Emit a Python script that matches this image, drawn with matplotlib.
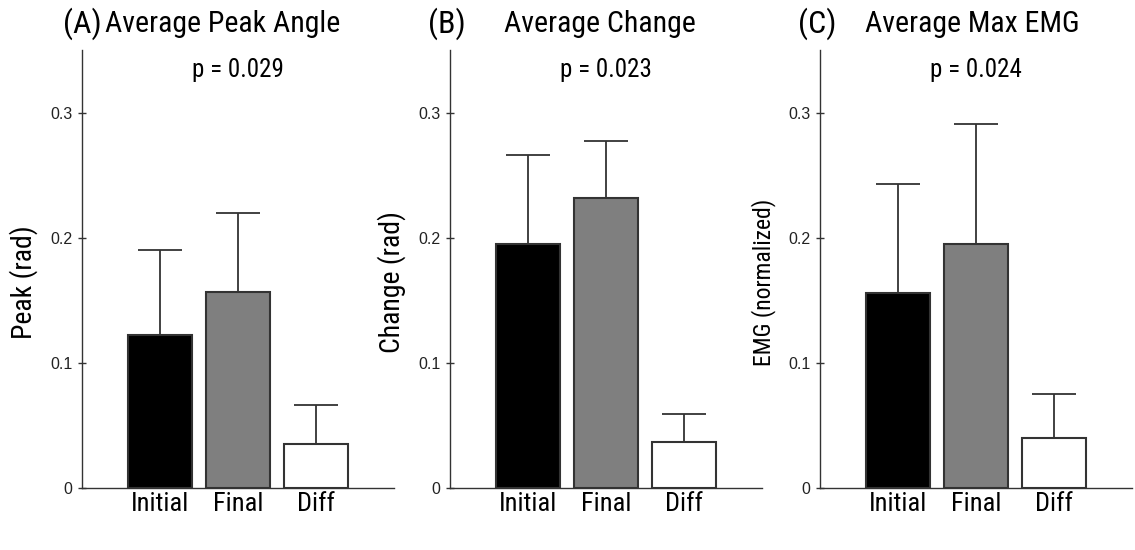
import matplotlib.pyplot as plt

conds = ["Initial", "Final", "Diff"]
bar_colors = ["black", "#7f7f7f", "white"]

peak_mean = [0.122, 0.157, 0.035]
peak_err = [0.068, 0.063, 0.031]
change_mean = [0.195, 0.232, 0.037]
change_err = [0.071, 0.045, 0.022]
emg_mean = [0.156, 0.195, 0.040]
emg_err = [0.087, 0.096, 0.035]

letters = ["(A)", "(B)", "(C)"]
titles = ["Average Peak Angle", "Average Change", "Average Max EMG"]
pvals = ["p = 0.029", "p = 0.023", "p = 0.024"]
ylabels = ["Peak (rad)", "Change (rad)", "EMG (normalized)"]
yticks = [0, 0.1, 0.2, 0.3]
ytick_labels = ["0", "0.1", "0.2", "0.3"]

narrow = ["Roboto Condensed", "DejaVu Sans"]
plain = ["Liberation Sans", "DejaVu Sans"]

W, H = 1135, 550
fig = plt.figure(figsize=(W / 100, H / 100), dpi=100)

lefts = [82, 450, 820]
title_cx = [223, 600, 972]
letter_x = [63, 428, 798]
means = [peak_mean, change_mean, emg_mean]
errs = [peak_err, change_err, emg_err]
ylab_size = [20, 20, 17]
edge = "#333333"

for i in range(3):
    ax = fig.add_axes([lefts[i] / W, 62 / H, 312 / W, 438 / H])
    x = [1, 2, 3]
    ax.errorbar(x, means[i], yerr=[[0, 0, 0], errs[i]], fmt="none",
                ecolor=edge, elinewidth=1.3, capsize=15.8, capthick=1.3, zorder=1)
    ax.bar(x, means[i], width=0.82, color=bar_colors, edgecolor=edge,
           linewidth=1.5, zorder=2)
    ax.set_xlim(0, 4)
    ax.set_ylim(0, 0.35)
    for s in ["top", "right"]:
        ax.spines[s].set_visible(False)
    for s in ["left", "bottom"]:
        ax.spines[s].set_color(edge)
        ax.spines[s].set_linewidth(1.0)
    ax.set_xticks(x)
    ax.set_xticklabels(conds, fontsize=19, family=narrow)
    ax.tick_params(axis="x", length=0, pad=3)
    ax.set_yticks(yticks)
    ax.set_yticklabels(ytick_labels, fontsize=11.5, family=plain, color="#222222")
    ax.tick_params(axis="y", direction="inout", length=6, width=1, color=edge, pad=4)
    ax.set_ylabel(ylabels[i], fontsize=ylab_size[i], family=narrow)
    ax.yaxis.set_label_coords(-0.14, 0.47)
    ax.text(0.5, 0.955, pvals[i], transform=ax.transAxes, ha="center", va="center",
            fontsize=18, family=narrow)
    fig.text(title_cx[i] / W, 1 - 24 / H, titles[i], ha="center", va="center",
             fontsize=21.5, family=narrow)
    fig.text(letter_x[i] / W, 1 - 24 / H, letters[i], ha="left", va="center",
             fontsize=23, family=narrow)

fig.savefig("out.png", dpi=100)
